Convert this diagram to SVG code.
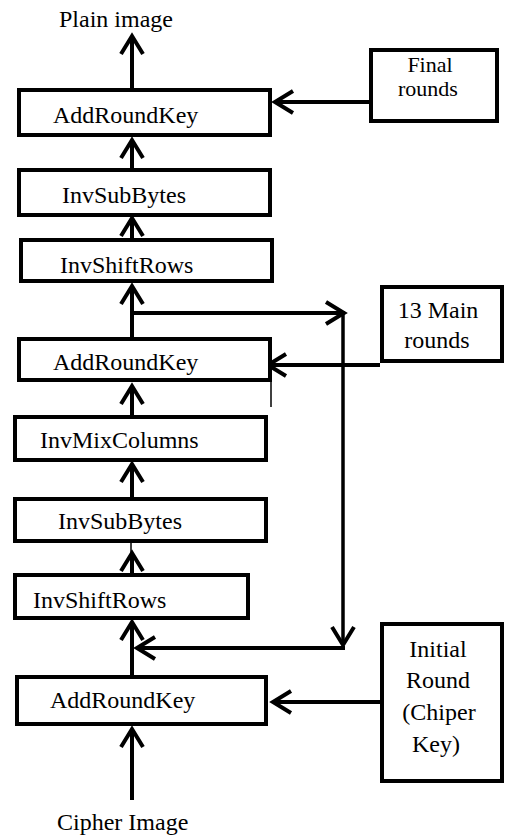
<svg xmlns="http://www.w3.org/2000/svg" width="505" height="836" viewBox="0 0 505 836">
  <style>
    .box { fill: #ffffff; stroke: #000000; stroke-width: 4; }
    .lbl { font-family: "Liberation Serif", "Times New Roman", serif; font-size: 24px; fill: #000000; }
    .mid { text-anchor: middle; }
    .tight { font-size: 22px; }
    .wire { fill: none; stroke: #000000; stroke-width: 4; }
    .thin { fill: none; stroke: #000000; stroke-width: 3.5; }
  </style>
  <defs>
    <marker id="chev" viewBox="-24 -14 28 28" markerWidth="28" markerHeight="28" refX="0" refY="0" orient="auto" markerUnits="userSpaceOnUse">
      <path d="M -18 -11 L 0 0 L -18 11" fill="none" stroke="#000000" stroke-width="4"/>
    </marker>
  </defs>

  <rect width="505" height="836" fill="#ffffff"/>

  <!-- connectors -->
  <g id="connectors">
    <line class="wire" x1="132" y1="88" x2="132" y2="36" marker-end="url(#chev)"/>
    <line class="wire" x1="369" y1="102" x2="275" y2="102" marker-end="url(#chev)"/>
    <line class="wire" x1="132" y1="168" x2="132" y2="140" marker-end="url(#chev)"/>
    <line class="wire" x1="132" y1="238" x2="132" y2="218" marker-end="url(#chev)"/>
    <line class="wire" x1="132" y1="337" x2="132" y2="286" marker-end="url(#chev)"/>
    <line class="wire" x1="130" y1="313" x2="344" y2="313" marker-end="url(#chev)"/>
    <line class="thin" x1="343" y1="311" x2="343" y2="645" marker-end="url(#chev)"/>
    <polyline class="wire" points="343,646 343,648 137,648" marker-end="url(#chev)"/>
    <line class="wire" x1="380" y1="365" x2="268" y2="365" marker-end="url(#chev)"/>
    <line x1="271" y1="382" x2="271" y2="407" stroke="#000000" stroke-width="1.5"/>
    <line class="wire" x1="132" y1="415" x2="132" y2="386" marker-end="url(#chev)"/>
    <line class="wire" x1="132" y1="497" x2="132" y2="464" marker-end="url(#chev)"/>
    <line x1="131" y1="543" x2="131" y2="553" stroke="#000000" stroke-width="1.5"/>
    <line class="wire" x1="132" y1="573" x2="132" y2="553" marker-end="url(#chev)"/>
    <line class="wire" x1="132" y1="675" x2="132" y2="622" marker-end="url(#chev)"/>
    <line class="wire" x1="380" y1="702" x2="273" y2="702" marker-end="url(#chev)"/>
    <line class="wire" x1="132" y1="800" x2="132" y2="729" marker-end="url(#chev)"/>
  </g>

  <g id="plain-image">
    <text class="lbl" x="59" y="27">Plain image</text>
  </g>

  <g id="add-round-key-final">
    <rect class="box" x="19" y="90" width="251" height="45"/>
    <text class="lbl" x="53" y="123">AddRoundKey</text>
  </g>

  <g id="final-rounds">
    <rect class="box" x="371" y="50" width="126" height="71"/>
    <text class="lbl mid tight" x="430" y="72">Final</text>
    <text class="lbl mid tight" x="428" y="96">rounds</text>
  </g>

  <g id="inv-sub-bytes-final">
    <rect class="box" x="19" y="170" width="251" height="45"/>
    <text class="lbl" x="62" y="203">InvSubBytes</text>
  </g>

  <g id="inv-shift-rows-final">
    <rect class="box" x="21" y="240" width="251" height="41"/>
    <text class="lbl" x="60" y="273">InvShiftRows</text>
  </g>

  <g id="main-rounds">
    <rect class="box" x="382" y="287" width="120" height="74"/>
    <text class="lbl mid" x="438" y="318">13 Main</text>
    <text class="lbl mid" x="437" y="348">rounds</text>
  </g>

  <g id="add-round-key-main">
    <rect class="box" x="19" y="339" width="251" height="41"/>
    <text class="lbl" x="53" y="370">AddRoundKey</text>
  </g>

  <g id="inv-mix-columns">
    <rect class="box" x="15" y="417" width="251" height="43"/>
    <text class="lbl" x="40" y="448">InvMixColumns</text>
  </g>

  <g id="inv-sub-bytes-main">
    <rect class="box" x="15" y="499" width="251" height="42"/>
    <text class="lbl" x="58" y="529">InvSubBytes</text>
  </g>

  <g id="inv-shift-rows-main">
    <rect class="box" x="15" y="575" width="233" height="43"/>
    <text class="lbl" x="33" y="608">InvShiftRows</text>
  </g>

  <g id="add-round-key-initial">
    <rect class="box" x="17" y="677" width="249" height="47"/>
    <text class="lbl" x="50" y="708">AddRoundKey</text>
  </g>

  <g id="initial-round">
    <rect class="box" x="382" y="624" width="120" height="157"/>
    <text class="lbl mid" x="438" y="657">Initial</text>
    <text class="lbl mid" x="438" y="688">Round</text>
    <text class="lbl mid" x="439" y="720">(Chiper</text>
    <text class="lbl mid" x="436" y="752">Key)</text>
  </g>

  <g id="cipher-image">
    <text class="lbl" x="57" y="830">Cipher Image</text>
  </g>
</svg>
